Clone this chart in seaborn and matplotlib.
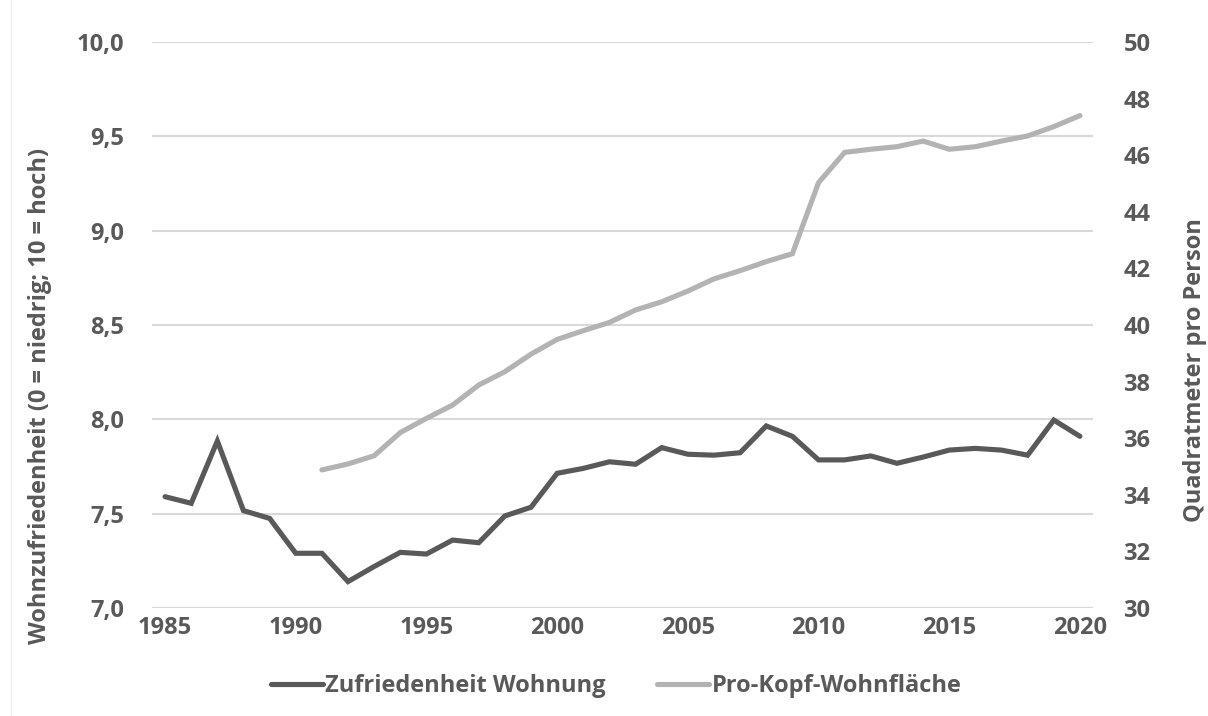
import matplotlib
matplotlib.use("Agg")
import matplotlib.pyplot as plt
from matplotlib.ticker import FuncFormatter, MultipleLocator
from matplotlib.lines import Line2D
import seaborn as sns
import pandas as pd

sns.set_style("white")
plt.rcParams['font.family'] = ['Open Sans', 'DejaVu Sans']

# Zufriedenheit mit der Wohnung (0-10), 1985-2020
years_sat = list(range(1985, 2021))
satisfaction = [7.59, 7.555, 7.885, 7.516, 7.475, 7.29, 7.29, 7.14, 7.22, 7.295,
                7.286, 7.36, 7.346, 7.488, 7.534, 7.714, 7.74, 7.775, 7.762, 7.85,
                7.815, 7.81, 7.823, 7.965, 7.91, 7.785, 7.785, 7.806, 7.767, 7.80,
                7.837, 7.846, 7.837, 7.81, 7.996, 7.91]

# Wohnflaeche pro Kopf (qm), 1991-2020
years_area = list(range(1991, 2021))
living_area = [34.88, 35.09, 35.38, 36.2, 36.7, 37.17, 37.88, 38.35, 38.97, 39.49,
               39.8, 40.09, 40.53, 40.82, 41.2, 41.63, 41.92, 42.24, 42.52, 45.03,
               46.1, 46.21, 46.3, 46.5, 46.21, 46.3, 46.5, 46.68, 47.01, 47.4]

df_sat = pd.DataFrame({'year': years_sat, 'value': satisfaction})
df_area = pd.DataFrame({'year': years_area, 'value': living_area})

dark = '#595959'
light = '#b3b3b3'
txt = '#595959'
fs = 17
fw = 'bold'

fig = plt.figure(figsize=(12.08, 7.16), dpi=100)
ax = fig.add_axes([152 / 1208, 1 - 608 / 716, (1093 - 152) / 1208, (608 - 42) / 716])
ax2 = ax.twinx()

sns.lineplot(data=df_sat, x='year', y='value', ax=ax, color=dark, linewidth=3.7,
             solid_joinstyle='miter', label='Zufriedenheit Wohnung', legend=False)
sns.lineplot(data=df_area, x='year', y='value', ax=ax2, color=light, linewidth=3.7,
             solid_joinstyle='miter', label='Pro-Kopf-Wohnfläche', legend=False)

ax.set_xlim(1984.5, 2020.5)
ax.set_ylim(7.0, 10.0)
ax2.set_ylim(30, 50)
ax.yaxis.set_major_locator(MultipleLocator(0.5))
ax2.yaxis.set_major_locator(MultipleLocator(2))
ax.set_xticks(list(range(1985, 2021, 5)))
ax.yaxis.set_major_formatter(FuncFormatter(lambda v, p: f"{v:.1f}".replace('.', ',')))
ax2.yaxis.set_major_formatter(FuncFormatter(lambda v, p: f"{v:.0f}"))

ax.grid(axis='y', color='#d9d9d9', linewidth=1.5)
ax.set_axisbelow(True)
for a in (ax, ax2):
    for s in a.spines.values():
        s.set_visible(False)
    a.set_xlabel('')
    a.set_ylabel('')
ax.tick_params(axis='y', length=0, pad=20, labelsize=fs, labelcolor=txt)
ax.tick_params(axis='x', length=0, pad=6, labelsize=fs, labelcolor=txt)
ax2.tick_params(axis='y', length=0, pad=22, labelsize=fs, labelcolor=txt)
for lab in ax.get_xticklabels() + ax.get_yticklabels() + ax2.get_yticklabels():
    lab.set_fontweight(fw)

fig.text(40 / 1208, 1 - 396 / 716, 'Wohnzufriedenheit (0 = niedrig; 10 = hoch)',
         rotation=90, ha='center', va='center', fontsize=fs, color=txt, fontweight=fw)
fig.text(1195 / 1208, 1 - 370 / 716, 'Quadratmeter pro Person',
         rotation=90, ha='center', va='center', fontsize=fs, color=txt, fontweight=fw)

h1, l1 = ax.get_legend_handles_labels()
h2, l2 = ax2.get_legend_handles_labels()
leg = fig.legend(h1 + h2, l1 + l2, loc='center', bbox_to_anchor=(0.51, 1 - 686 / 716),
                 ncol=2, frameon=False, fontsize=fs, handlelength=2.2, handletextpad=0.1,
                 columnspacing=2.2)
for t in leg.get_texts():
    t.set_color(txt)
    t.set_fontweight(fw)

# faint border on the left edge
fig.add_artist(Line2D([11 / 1208, 11 / 1208], [0, 1], color='#eeeeee', linewidth=1,
                      transform=fig.transFigure))

fig.savefig('out.png', dpi=100, facecolor='white')
